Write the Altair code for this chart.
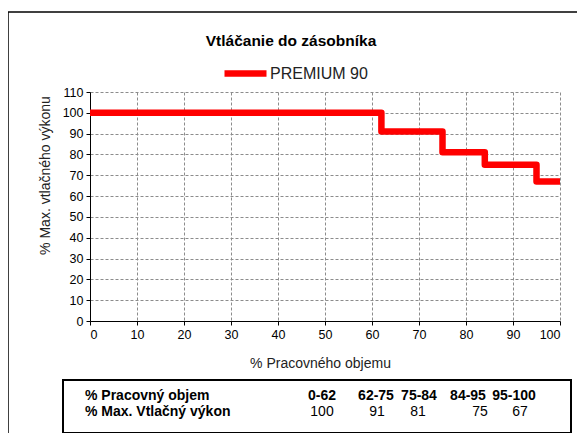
import altair as alt
import pandas as pd

# ---- data ----
x_break = [0, 62, 75, 84, 95, 100]
y_level = [100, 91, 81, 75, 67]
series_name = "PREMIUM 90"
chart_title = "Vtláčanie do zásobníka"
x_title = "% Pracovného objemu"
y_title = "% Max. vtlačného výkonu"
row1_label = "% Pracovný objem"
row2_label = "% Max. Vtlačný výkon"
ranges = ["0-62", "62-75", "75-84", "84-95", "95-100"]
range_values = ["100", "91", "81", "75", "67"]
x_ticks = list(range(0, 101, 10))
y_ticks = list(range(0, 111, 10))

# ---- layout (pixels relative to plot origin) ----
W, H = 470, 229
col_range_px = [232, 286, 329, 378, 424]
col_value_px = [232, 287, 328, 390, 430]
row1_px, row2_px = 304, 320
label_px = -5
FONT = "Liberation Sans"

step_df = pd.DataFrame({
    "x": x_break,
    "y": y_level + [y_level[-1]],
    "series": [series_name] * len(x_break),
})

line = alt.Chart(step_df).mark_line(
    interpolate="step-after", strokeWidth=6.5, strokeJoin="round", strokeCap="butt"
).encode(
    x=alt.X("x:Q", scale=alt.Scale(domain=[0, 100], nice=False),
            axis=alt.Axis(values=x_ticks, title=x_title, titleX=230, titleY=42,
                          titleBaseline="middle", titleFontWeight="normal",
                          titleFontSize=14, titleFont=FONT, titleColor="#222")),
    y=alt.Y("y:Q", scale=alt.Scale(domain=[0, 110], nice=False),
            axis=alt.Axis(values=y_ticks, title=y_title, titleX=-45, titleY=83,
                          titleBaseline="middle", titleAlign="center",
                          titleFontWeight="normal", titleFontSize=14,
                          titleFont=FONT, titleColor="#222")),
    color=alt.Color("series:N", scale=alt.Scale(domain=[series_name], range=["#ff0000"]),
                    legend=alt.Legend(title=None, orient="none", legendX=131, legendY=-43,
                                      symbolType="stroke", symbolSize=1764,
                                      symbolStrokeWidth=6.5, labelFontSize=16,
                                      labelFont=FONT, labelColor="#222", labelOffset=0,
                                      padding=0)),
)

title_mark = alt.Chart(pd.DataFrame({"t": [chart_title]})).mark_text(
    font=FONT, fontSize=15.5, fontWeight="bold", color="black", baseline="middle"
).encode(x=alt.value(201), y=alt.value(-51), text="t:N")

frame_top = alt.Chart(pd.DataFrame({"a": [0]})).mark_rule(color="black", strokeWidth=1.5).encode(
    x=alt.value(-82), x2=alt.value(500), y=alt.value(-80))
frame_left = alt.Chart(pd.DataFrame({"a": [0]})).mark_rule(color="black", strokeWidth=1.5).encode(
    x=alt.value(-82), y=alt.value(-80), y2=alt.value(360))

table_box = alt.Chart(pd.DataFrame({"a": [0]})).mark_rect(
    filled=False, stroke="black", strokeWidth=2
).encode(x=alt.value(-27), x2=alt.value(481), y=alt.value(288), y2=alt.value(341))

cells = []
cells.append({"txt": row1_label, "px": label_px, "py": row1_px, "w": "bold", "al": "left"})
cells.append({"txt": row2_label, "px": label_px, "py": row2_px, "w": "bold", "al": "left"})
for r, p in zip(ranges, col_range_px):
    cells.append({"txt": r, "px": p, "py": row1_px, "w": "bold", "al": "center"})
for v, p in zip(range_values, col_value_px):
    cells.append({"txt": v, "px": p, "py": row2_px, "w": "normal", "al": "center"})
cell_df = pd.DataFrame(cells)

def table_text(weight, align):
    d = cell_df[(cell_df.w == weight) & (cell_df.al == align)]
    return alt.Chart(d).mark_text(
        font=FONT, fontSize=14, fontWeight=weight, color="black",
        align=align, baseline="middle"
    ).encode(
        x=alt.X("px:Q", scale=None, axis=None),
        y=alt.Y("py:Q", scale=None, axis=None),
        text="txt:N",
    )

table_layers = [table_text("bold", "left"), table_text("bold", "center"),
                table_text("normal", "center")]

chart = alt.layer(
    frame_top, frame_left, line, title_mark, table_box, *table_layers
).resolve_scale(x="independent", y="independent").properties(
    width=W, height=H,
    autosize=alt.AutoSizeParams(type="none"),
    padding={"left": 82, "top": 84, "right": 17, "bottom": 112},
).configure_view(stroke=None).configure_axis(
    domainColor="black", tickColor="black", tickSize=4, labelFontSize=12.5,
    labelFont=FONT, labelColor="black", labelPadding=3,
    gridColor="#8c8c8c", gridDash=[3, 2], gridWidth=1, domainWidth=1,
)

chart.save("out.html", embed_options={"renderer": "svg", "actions": False})
